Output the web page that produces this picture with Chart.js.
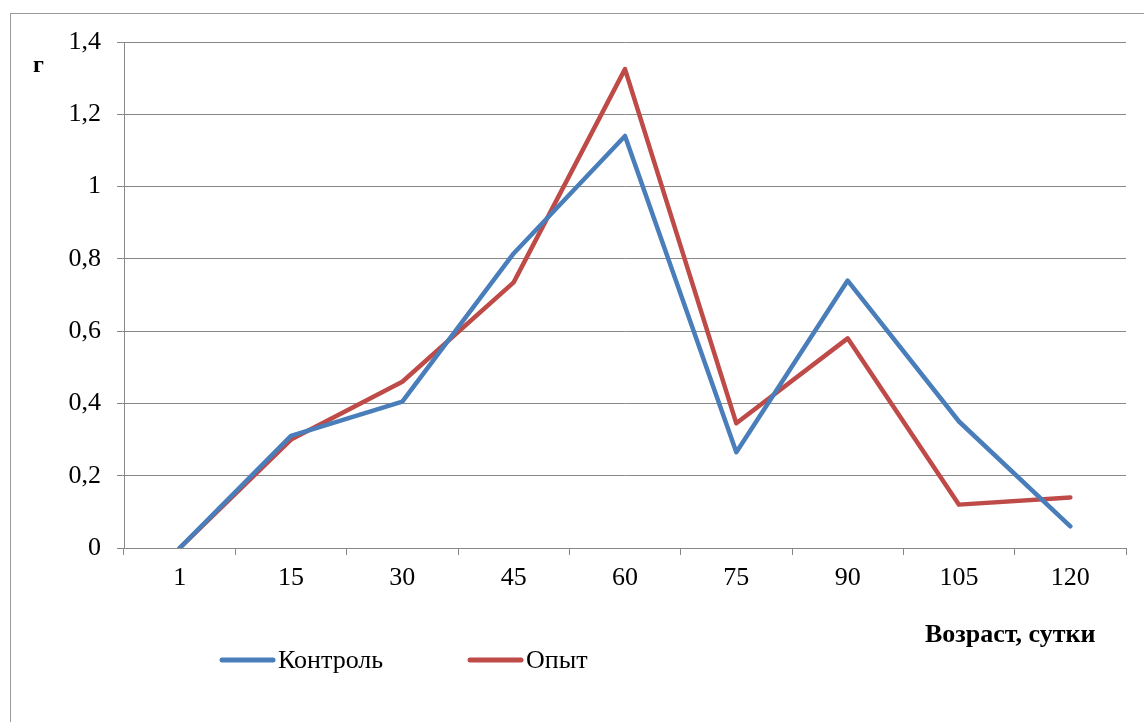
<!DOCTYPE html>
<html>
<head>
<meta charset="utf-8">
<script src="https://cdn.jsdelivr.net/npm/chart.js@4/dist/chart.umd.min.js"></script>
<style>
  html, body { margin: 0; padding: 0; background: #fff; overflow: hidden; }
  #wrap { position: relative; width: 1144px; height: 722px; }
  #frame { position: absolute; left: 10px; top: 13px; width: 1200px; height: 800px;
           border: 1px solid #9a9a9a; box-sizing: border-box; }
  canvas { position: absolute; left: 0; top: 0; }
</style>
</head>
<body>
<div id="wrap">
  <div id="frame"></div>
  <canvas id="c" width="1144" height="722"></canvas>
</div>
<script>
// Age in days
const ages = ['1', '15', '30', '45', '60', '75', '90', '105', '120'];
// Mass, g
const control = [0, 0.31, 0.405, 0.815, 1.14, 0.265, 0.74, 0.35, 0.06];
const experiment = [0, 0.30, 0.46, 0.735, 1.325, 0.345, 0.58, 0.12, 0.14];
const yTicks = [0, 0.2, 0.4, 0.6, 0.8, 1, 1.2, 1.4];

const serif = "'Liberation Serif', 'Times New Roman', serif";

// Legend, unit label and axis caption drawn in fixed spots around the plot
const decorations = {
  id: 'decorations',
  afterDraw(chart) {
    const ctx = chart.ctx;
    ctx.save();
    ctx.fillStyle = '#000';
    ctx.font = 'bold 24px ' + serif;
    ctx.textBaseline = 'alphabetic';
    ctx.textAlign = 'left';
    ctx.fillText('г', 33, 72);
    ctx.font = 'bold 26px ' + serif;
    ctx.fillText('Возраст, сутки', 925, 642);

    const items = [
      { x: 222, ds: chart.data.datasets[0] },
      { x: 470, ds: chart.data.datasets[1] }
    ];
    ctx.font = '26px ' + serif;
    items.forEach(it => {
      ctx.strokeStyle = it.ds.borderColor;
      ctx.lineWidth = 5;
      ctx.lineCap = 'round';
      ctx.beginPath();
      ctx.moveTo(it.x, 660);
      ctx.lineTo(it.x + 51, 660);
      ctx.stroke();
      ctx.fillText(it.ds.label, it.x + 56, 668);
    });
    ctx.restore();
  }
};

new Chart(document.getElementById('c'), {
  type: 'line',
  data: {
    labels: ages,
    datasets: [
      { label: 'Контроль', data: control, borderColor: '#4a7ebb', borderWidth: 4.5,
        pointRadius: 0, tension: 0, borderCapStyle: 'round', borderJoinStyle: 'round' },
      { label: 'Опыт', data: experiment, borderColor: '#be4b48', borderWidth: 4.5,
        pointRadius: 0, tension: 0, borderCapStyle: 'round', borderJoinStyle: 'round' }
    ]
  },
  options: {
    responsive: false,
    animation: false,
    layout: { padding: { left: 0, top: 42, right: 18, bottom: 0 } },
    plugins: { legend: { display: false }, tooltip: { enabled: false }, title: { display: false } },
    scales: {
      x: {
        offset: true,
        grid: { offset: true, drawOnChartArea: false, drawTicks: true, tickLength: 7,
                color: '#888', lineWidth: 1 },
        border: { color: '#888', width: 1 },
        ticks: { color: '#000', font: { family: serif, size: 26 }, padding: 8,
                 maxRotation: 0, autoSkip: false },
        afterFit(scale) { scale.height = 174; }
      },
      y: {
        min: 0, max: 1.4,
        afterBuildTicks(scale) { scale.ticks = yTicks.map(v => ({ value: v })); },
        grid: { color: '#888', lineWidth: 1, drawTicks: true, tickLength: 7 },
        border: { color: '#888', width: 1 },
        ticks: {
          color: '#000', font: { family: serif, size: 26 }, padding: 16,
          callback: v => String(Number(v.toFixed(1))).replace('.', ',')
        },
        afterFit(scale) { scale.width = 124; }
      }
    }
  },
  plugins: [decorations]
});
</script>
</body>
</html>
